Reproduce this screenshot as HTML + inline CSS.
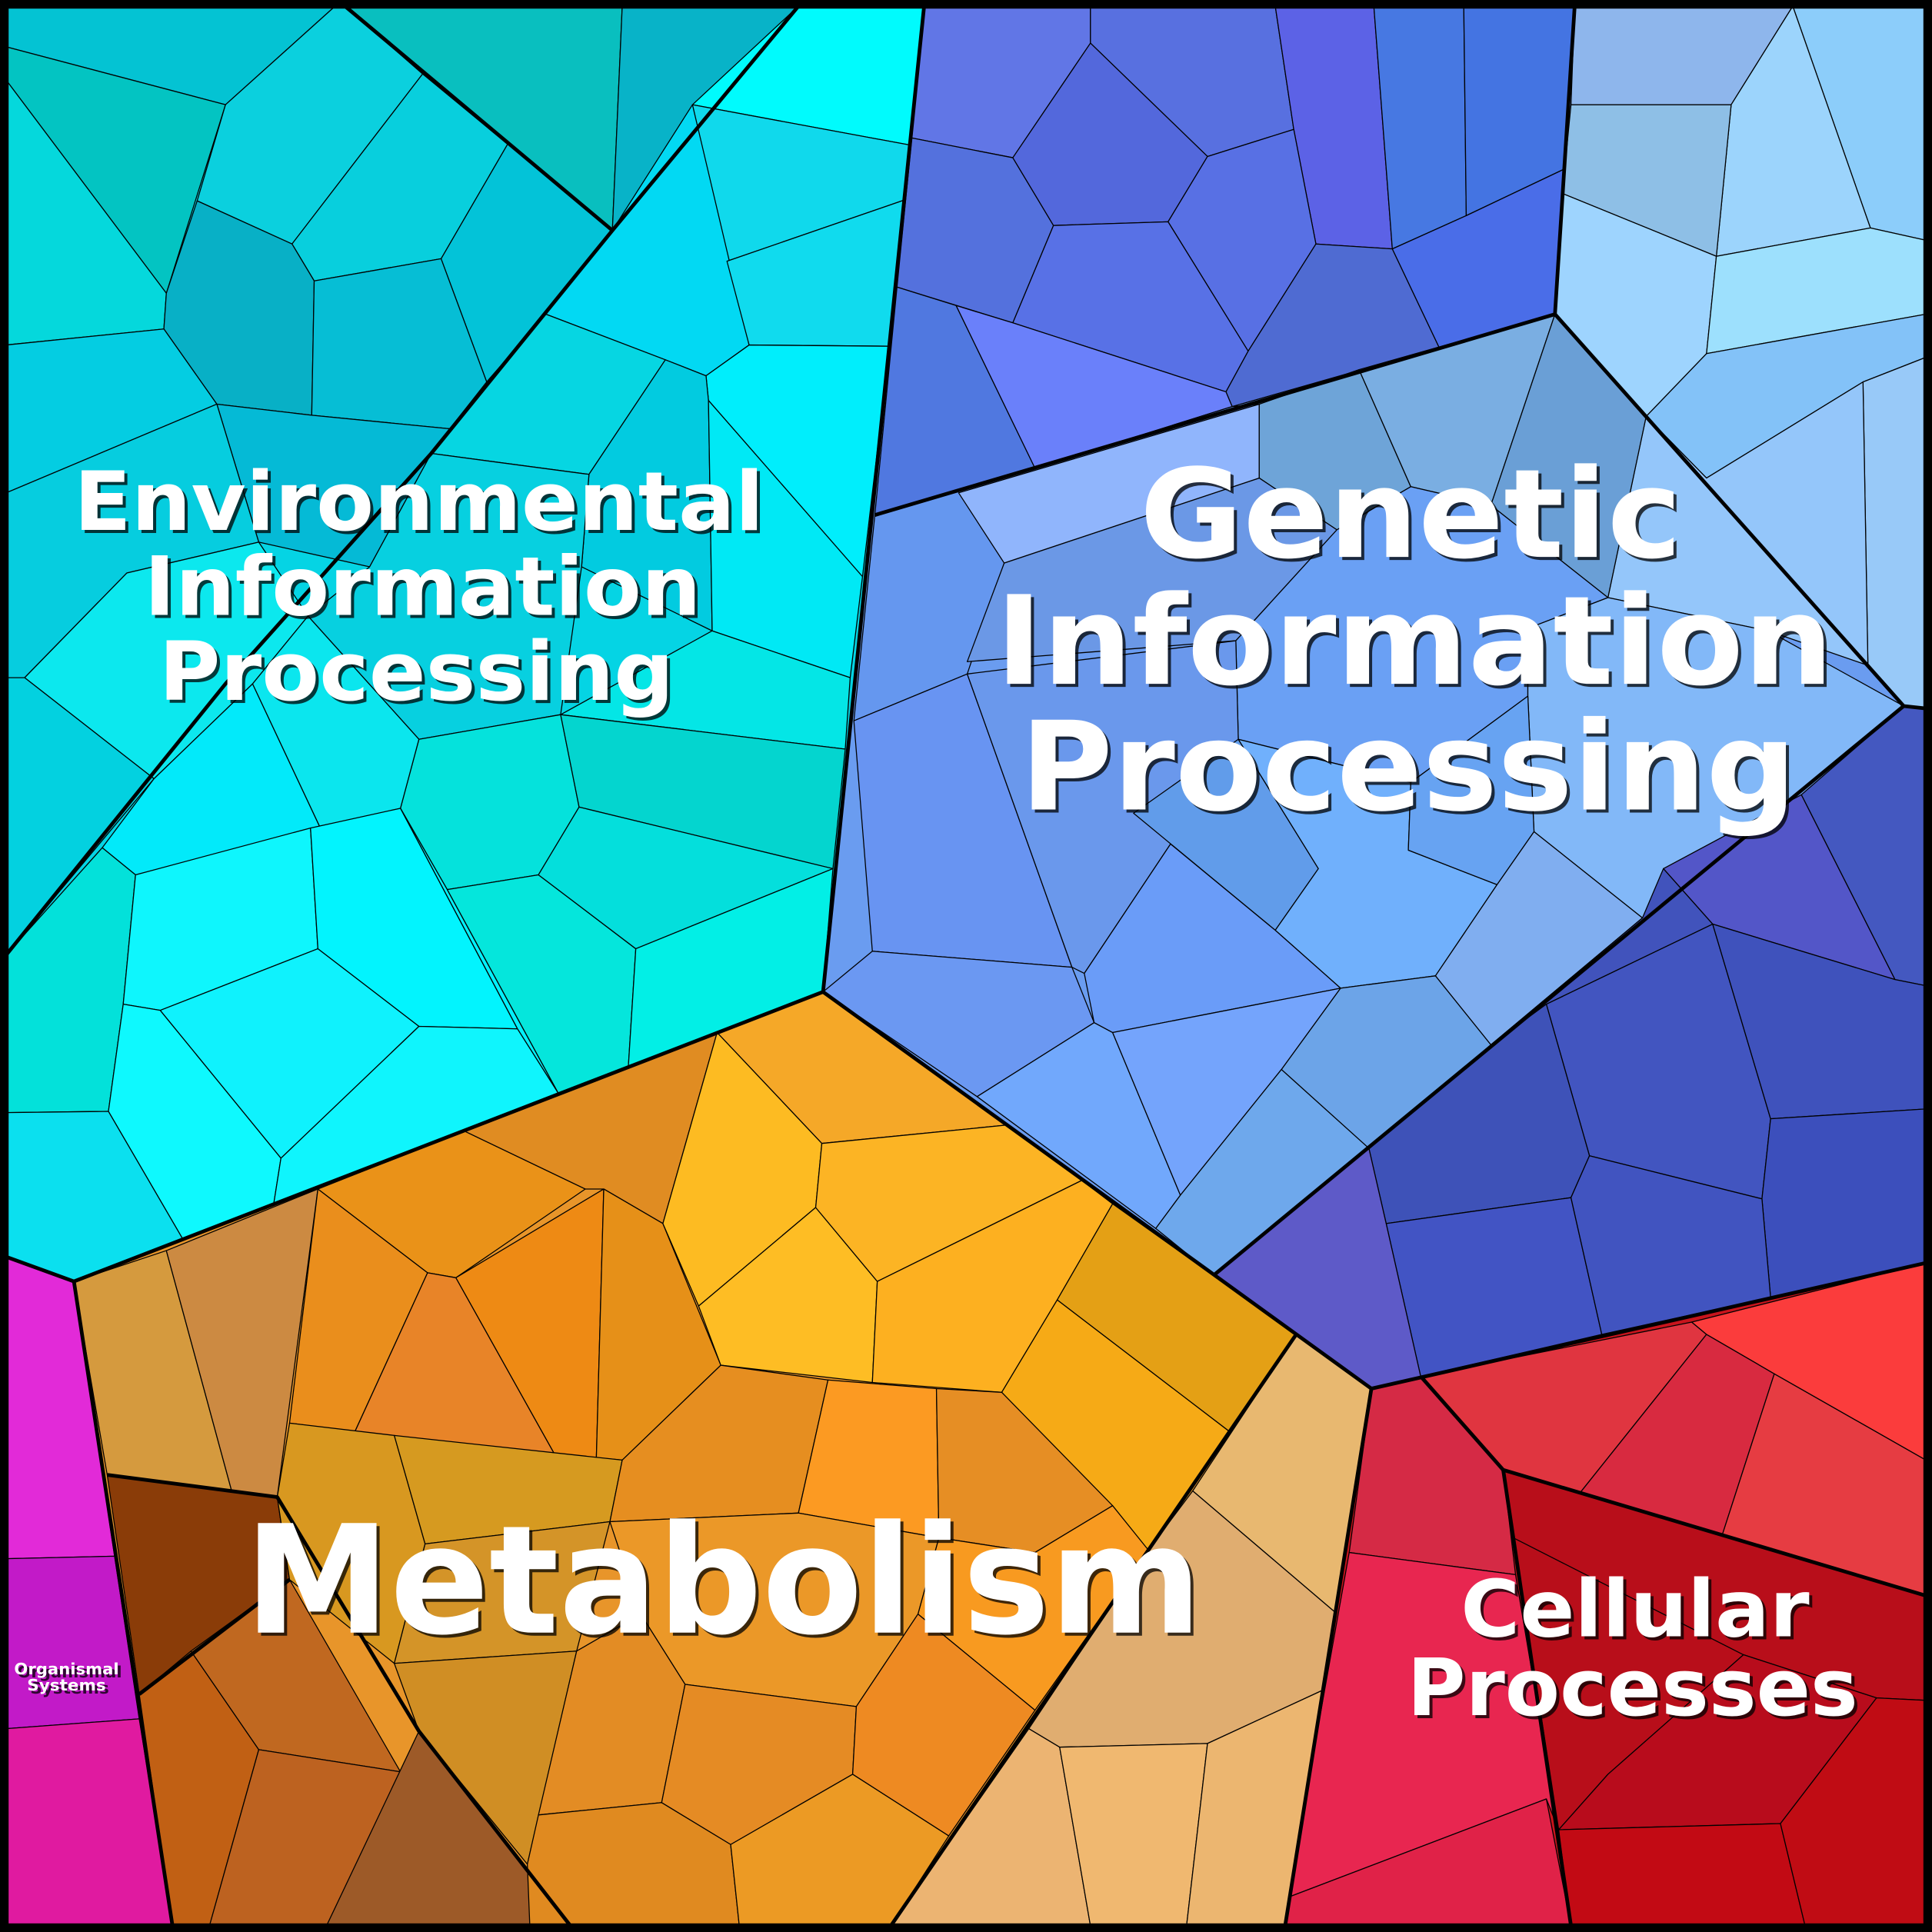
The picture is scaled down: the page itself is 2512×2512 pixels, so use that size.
<!DOCTYPE html>
<html><head><meta charset="utf-8"><style>html,body{margin:0;padding:0;background:#000}svg{display:block}</style></head><body>
<svg xmlns="http://www.w3.org/2000/svg" width="2512" height="2512" viewBox="0 0 1568 1568">
<g stroke="#000" stroke-width="0.8" stroke-linejoin="round">
<polygon points="5,5 750,5 668,805 60,1040 5,1020" fill="#05d4e4"/>
<polygon points="750,5 1563,5 1563,1025 1113,1127 668,805" fill="#6a9cf0"/>
<polygon points="668,805 1113,1127 1043,1563 140,1563 60,1040" fill="#e8952a"/>
<polygon points="1113,1127 1563,1025 1563,1563 1043,1563" fill="#c8141c"/>
<polygon points="5,1020 60,1040 140,1563 5,1563" fill="#d020c8"/>
<polygon points="5,5 272,5 183,85 5,38" fill="#04c3d3"/>
<polygon points="5,38 183,85 135,238 5,65" fill="#03c4c2"/>
<polygon points="5,65 135,238 133,267 5,280" fill="#05d8dc"/>
<polygon points="280,5 505,5 497,187" fill="#09bfbf"/>
<polygon points="272,5 280,5 343,60 237,198 160,163 183,85" fill="#0bd0de"/>
<polygon points="505,5 648,5 497,187" fill="#08b3c8"/>
<polygon points="648,5 750,5 740,118 562,85" fill="#00fbfd"/>
<polygon points="343,60 412,117 358,210 255,228 237,198" fill="#08cfdd"/>
<polygon points="412,117 497,187 443,255 395,310 358,210" fill="#03c3d8"/>
<polygon points="160,163 237,198 255,228 253,337 176,328 133,267 135,238" fill="#08b0c6"/>
<polygon points="255,228 358,210 395,310 365,348 253,337" fill="#06bed5"/>
<polygon points="5,280 133,267 176,328 5,400" fill="#04cde2"/>
<polygon points="562,85 740,118 735,162 590,212" fill="#10d9ec"/>
<polygon points="497,187 562,85 608,280 573,305 540,292 443,255" fill="#02d9f3"/>
<polygon points="590,212 735,162 722,281 608,280" fill="#10dbee"/>
<polygon points="608,280 722,281 700,468 575,325 573,305" fill="#00eefc"/>
<polygon points="443,255 540,292 478,385 350,368 395,310" fill="#06d6e2"/>
<polygon points="540,292 573,305 575,325 578,512 472,460 478,385" fill="#02cbe0"/>
<polygon points="176,328 253,337 365,348 350,368 300,460 210,440" fill="#05bad6"/>
<polygon points="350,368 478,385 472,460 455,580 340,600 250,500 300,460" fill="#07d0e0"/>
<polygon points="5,400 176,328 210,440 103,465 20,550 5,550" fill="#06cddf"/>
<polygon points="103,465 210,440 250,500 205,555 125,632 20,550" fill="#0ce8ee"/>
<polygon points="5,550 20,550 125,632 5,775" fill="#03d1e0"/>
<polygon points="575,325 700,468 690,550 578,512" fill="#00e9f5"/>
<polygon points="455,580 578,512 690,550 686,608" fill="#04e6e6"/>
<polygon points="340,600 455,580 470,655 437,710 363,722 325,656" fill="#05e2dc"/>
<polygon points="455,580 686,608 676,705 470,655" fill="#04d5cf"/>
<polygon points="125,632 205,555 260,672 110,710 83,688" fill="#02eafa"/>
<polygon points="205,555 250,500 340,600 325,656 260,672" fill="#0be6ee"/>
<polygon points="5,775 83,688 110,710 100,815 88,902 5,903" fill="#03e1da"/>
<polygon points="110,710 252,672 258,770 130,820 100,815" fill="#0ef6fd"/>
<polygon points="252,672 325,656 420,835 340,833 258,770" fill="#02f4fe"/>
<polygon points="130,820 258,770 340,833 228,940" fill="#0ff2fd"/>
<polygon points="100,815 130,820 228,940 222,978 148,1005 88,902" fill="#0ef9fe"/>
<polygon points="228,940 340,833 420,835 453,887 222,978" fill="#0ff5fd"/>
<polygon points="325,656 363,722 453,887 420,835" fill="#03f0fa"/>
<polygon points="363,722 437,710 516,770 510,865 453,887" fill="#05e6dc"/>
<polygon points="437,710 470,655 676,705 516,770" fill="#04dfdc"/>
<polygon points="516,770 676,705 668,805 510,865" fill="#02efe6"/>
<polygon points="5,903 88,902 148,1005 60,1040 5,1020" fill="#0be0ef"/>
<polygon points="750,5 885,5 885,35 822,128 740,112" fill="#6176e6"/>
<polygon points="885,5 1035,5 1050,105 980,127 885,35" fill="#5870e0"/>
<polygon points="1035,5 1115,5 1130,202 1068,198 1050,105" fill="#5c62e6"/>
<polygon points="1115,5 1188,5 1190,175 1130,202" fill="#4778e2"/>
<polygon points="1188,5 1278,5 1270,137 1190,175" fill="#4474e2"/>
<polygon points="740,112 822,128 855,183 822,262 728,233" fill="#5471dd"/>
<polygon points="822,128 885,35 980,127 948,180 855,183" fill="#5368dc"/>
<polygon points="980,127 1050,105 1068,198 1013,285 948,180" fill="#5870e4"/>
<polygon points="855,183 948,180 1013,285 995,318 822,262" fill="#5871e6"/>
<polygon points="1068,198 1130,202 1168,282 1000,330 995,318 1013,285" fill="#4f6bd2"/>
<polygon points="1130,202 1190,175 1270,137 1262,255 1168,282" fill="#4a6de8"/>
<polygon points="728,233 776,248 840,380 710,418" fill="#5078e0"/>
<polygon points="776,248 822,262 995,318 1000,330 840,380" fill="#6a80fa"/>
<polygon points="1278,5 1455,5 1405,85 1275,85" fill="#8eb6ec"/>
<polygon points="1455,5 1563,5 1563,195 1518,185" fill="#8ccdfa"/>
<polygon points="1405,85 1455,5 1518,185 1393,208" fill="#9cd4fc"/>
<polygon points="1275,85 1405,85 1393,208 1268,157" fill="#8ebfe6"/>
<polygon points="1268,157 1393,208 1385,287 1336,338 1262,255" fill="#9ed4fe"/>
<polygon points="1393,208 1518,185 1563,195 1563,255 1385,287" fill="#9de0fd"/>
<polygon points="1385,287 1563,255 1563,290 1512,310 1385,388 1336,338" fill="#83c2f8"/>
<polygon points="1512,310 1563,290 1563,575 1545,573 1516,540" fill="#98c9f8"/>
<polygon points="1385,388 1512,310 1516,540 1435,512 1305,485 1336,338" fill="#94c6fa"/>
<polygon points="710,418 840,380 1000,330 1022,328 1022,388 815,457 785,547 693,585" fill="#6597ef"/>
<polygon points="778,400 1022,328 1022,388 815,457" fill="#90b5fc"/>
<polygon points="1022,328 1103,300 1145,395 1085,430 1022,388" fill="#6ea4d8"/>
<polygon points="1103,300 1262,255 1210,410 1145,395" fill="#7aaee2"/>
<polygon points="1262,255 1336,338 1305,485 1210,410" fill="#6a9fd6"/>
<polygon points="815,457 1022,388 1085,430 1003,520 785,537" fill="#6b98e6"/>
<polygon points="1003,520 1085,430 1145,395 1210,410 1305,485 1240,510 1240,565 1145,635 1005,600" fill="#6aa0f4"/>
<polygon points="1240,510 1305,485 1435,512 1545,573 1333,745 1245,675 1240,565" fill="#82b8f8"/>
<polygon points="693,585 785,547 870,785 708,772" fill="#6894f2"/>
<polygon points="785,547 1003,520 1005,600 950,685 880,790 870,785" fill="#6a98ec"/>
<polygon points="920,660 1005,600 1070,705 1035,755" fill="#619cea"/>
<polygon points="1005,600 1145,635 1143,690 1215,718 1165,792 1088,802 1035,755 1070,705" fill="#70b0fc"/>
<polygon points="1145,635 1240,565 1245,675 1215,718 1143,690" fill="#67a3f2"/>
<polygon points="1245,675 1333,745 1210,848 1165,792 1215,718" fill="#80aef0"/>
<polygon points="668,805 708,772 870,785 888,830 793,890" fill="#6b98f2"/>
<polygon points="880,790 950,685 1035,755 1088,802 903,838 888,830" fill="#6a9cf8"/>
<polygon points="888,830 903,838 958,970 938,997 793,890" fill="#71a8fc"/>
<polygon points="903,838 1088,802 1040,868 958,970" fill="#74a4fc"/>
<polygon points="1088,802 1165,792 1210,848 1111,932 1040,868" fill="#6ca4e8"/>
<polygon points="958,970 1040,868 1111,932 985,1035 938,997" fill="#6ea8ec"/>
<polygon points="1350,705 1462,645 1538,795 1390,750" fill="#5356c8"/>
<polygon points="1462,645 1545,573 1563,575 1563,800 1538,795" fill="#4458c0"/>
<polygon points="1333,745 1350,705 1390,750 1255,815 1210,848" fill="#4153bc"/>
<polygon points="1255,815 1390,750 1437,908 1430,973 1290,938" fill="#4255c0"/>
<polygon points="1390,750 1538,795 1563,800 1563,900 1437,908" fill="#3f52bc"/>
<polygon points="1111,932 1210,848 1255,815 1290,938 1275,972 1125,993" fill="#3e52b8"/>
<polygon points="1437,908 1563,900 1563,1025 1437,1053 1430,973" fill="#3c4fbc"/>
<polygon points="1125,993 1275,972 1300,1083 1153,1117" fill="#4254c4"/>
<polygon points="1275,972 1290,938 1430,973 1437,1053 1300,1083" fill="#4154c0"/>
<polygon points="985,1035 1111,932 1125,993 1153,1117 1113,1127" fill="#5e5ac8"/>
<polygon points="1113,1127 1153,1117 1220,1193 1230,1278 1095,1260" fill="#d52a45"/>
<polygon points="1153,1117 1373,1073 1385,1083 1282,1212 1220,1193" fill="#e03540"/>
<polygon points="1373,1073 1563,1025 1563,1185 1440,1115 1385,1083" fill="#fb3c3c"/>
<polygon points="1385,1083 1440,1115 1398,1245 1282,1212" fill="#d82a40"/>
<polygon points="1440,1115 1563,1185 1563,1295 1398,1245" fill="#e63c42"/>
<polygon points="1095,1260 1230,1278 1265,1485 1255,1460 1045,1540" fill="#e82650"/>
<polygon points="1043,1563 1045,1540 1255,1460 1275,1563" fill="#e02248"/>
<polygon points="1220,1193 1398,1245 1563,1295 1563,1380 1523,1378 1415,1343 1305,1440 1265,1485" fill="#b80e1a"/>
<polygon points="1265,1485 1305,1440 1415,1343 1523,1378 1445,1480" fill="#b80c1c"/>
<polygon points="1265,1485 1445,1480 1465,1563 1275,1563" fill="#c20a14"/>
<polygon points="1445,1480 1523,1378 1563,1380 1563,1563 1465,1563" fill="#c00c14"/>
<polyline points="1228,1248 1415,1343" fill="none"/>
<polygon points="60,1040 135,1015 188,1210 87,1197" fill="#d59a3e"/>
<polygon points="135,1015 258,965 225,1215 188,1210" fill="#cc8a42"/>
<polygon points="87,1197 225,1215 235,1282 113,1375" fill="#8a3c08"/>
<polygon points="113,1375 155,1340 210,1420 170,1563 140,1563" fill="#c16014"/>
<polygon points="155,1340 235,1282 325,1438 210,1420" fill="#c06820"/>
<polygon points="210,1420 325,1438 265,1563 170,1563" fill="#bd6220"/>
<polygon points="265,1563 340,1405 463,1563" fill="#9d5a28"/>
<polygon points="258,965 377,918 475,965 370,1037 347,1033" fill="#ea9218"/>
<polygon points="258,965 347,1033 288,1162 235,1155" fill="#ea8e1c"/>
<polygon points="347,1033 370,1037 450,1180 288,1162" fill="#e88428"/>
<polygon points="370,1037 490,965 484,1183 450,1180" fill="#ee8a14"/>
<polygon points="377,918 582,838 538,993 490,965 475,965" fill="#e08c22"/>
<polygon points="490,965 538,993 585,1108 505,1185 484,1183" fill="#e69018"/>
<polygon points="582,838 668,805 818,913 667,928" fill="#f5a828"/>
<polygon points="538,993 582,838 667,928 662,980 567,1060" fill="#fdbb22"/>
<polygon points="567,1060 662,980 712,1040 708,1122 585,1108" fill="#febd24"/>
<polygon points="662,980 667,928 818,913 878,958 712,1040" fill="#fcb424"/>
<polygon points="712,1040 878,958 903,977 858,1055 813,1130 708,1122" fill="#fdb020"/>
<polygon points="903,977 1052,1083 998,1162 858,1055" fill="#e4a015"/>
<polygon points="858,1055 998,1162 932,1258 813,1130" fill="#f6aa16"/>
<polygon points="1052,1083 1113,1127 1083,1308 968,1210" fill="#e8b870"/>
<polygon points="968,1210 1083,1308 1073,1372 980,1415 860,1418 835,1403 932,1258" fill="#e0ad70"/>
<polygon points="835,1403 860,1418 885,1563 723,1563" fill="#ecb472"/>
<polygon points="860,1418 980,1415 963,1563 885,1563" fill="#f0b870"/>
<polygon points="980,1415 1073,1372 1043,1563 963,1563" fill="#ecb670"/>
<polygon points="235,1155 320,1165 345,1253 320,1350 235,1282 225,1215" fill="#d89820"/>
<polygon points="320,1165 505,1185 495,1235 345,1253" fill="#d69a20"/>
<polygon points="345,1253 495,1235 468,1340 320,1350" fill="#d49428"/>
<polygon points="320,1350 468,1340 428,1513 340,1405" fill="#d08e24"/>
<polygon points="585,1108 672,1120 648,1228 495,1235 505,1185" fill="#e68e20"/>
<polygon points="672,1120 760,1127 762,1248 648,1228" fill="#fc9a22"/>
<polygon points="760,1127 813,1130 903,1222 840,1260 762,1248" fill="#e68e24"/>
<polygon points="903,1222 932,1258 840,1388 745,1310 762,1248 840,1260" fill="#f89a20"/>
<polygon points="495,1235 648,1228 762,1248 745,1310 695,1385 556,1367 520,1310" fill="#eb9828"/>
<polygon points="468,1340 520,1310 556,1367 537,1463 437,1473" fill="#e38c24"/>
<polygon points="556,1367 695,1385 692,1440 593,1497 537,1463" fill="#e58b24"/>
<polygon points="695,1385 745,1310 840,1388 770,1490 692,1440" fill="#ee8a22"/>
<polygon points="428,1513 437,1473 537,1463 593,1497 600,1563 430,1563" fill="#e08a20"/>
<polygon points="593,1497 692,1440 770,1490 723,1563 600,1563" fill="#ec9a24"/>
<polygon points="5,1020 60,1040 93,1263 5,1265" fill="#e22ad8"/>
<polygon points="5,1265 93,1263 113,1395 5,1403" fill="#c21ac8"/>
<polygon points="5,1403 113,1395 140,1563 5,1563" fill="#e01aa0"/>
</g>
<g fill="none" stroke="#000" stroke-width="3" stroke-linejoin="round">
<polygon points="5,5 750,5 668,805 60,1040 5,1020"/>
<polyline points="668,805 1113,1127 1043,1563"/>
<polyline points="1113,1127 1563,1025"/>
<polyline points="60,1040 140,1563"/>
<polyline points="5,775 183,555 350,368 497,187 648,5"/>
<polyline points="280,5 497,187"/>
<polyline points="710,418 1262,255 1278,5"/>
<polyline points="1262,255 1545,573 1563,575"/>
<polyline points="1545,573 985,1035"/>
<polyline points="87,1197 225,1215 340,1405 463,1563"/>
<polyline points="113,1375 235,1282"/>
<polyline points="1220,1193 1275,1563"/>
<polyline points="1220,1193 1563,1295"/>
<polyline points="1153,1117 1220,1193"/>
<polyline points="723,1563 1052,1083"/>
</g>
<rect x="3.5" y="3.5" width="1561" height="1561" fill="none" stroke="#000" stroke-width="7"/>
<g font-family="'DejaVu Sans','Liberation Sans',sans-serif" font-weight="bold" text-anchor="middle">
<g fill="#000" opacity="0.75" transform="translate(2.5,2.5)">
<text x="340" y="430" font-size="66" textLength="560" lengthAdjust="spacingAndGlyphs">Environmental</text>
<text x="343" y="499" font-size="66" textLength="452" lengthAdjust="spacingAndGlyphs">Information</text>
<text x="338" y="568" font-size="66" textLength="418" lengthAdjust="spacingAndGlyphs">Processing</text>
<text x="1145" y="452" font-size="100" textLength="440" lengthAdjust="spacingAndGlyphs">Genetic</text>
<text x="1148" y="555" font-size="100" textLength="680" lengthAdjust="spacingAndGlyphs">Information</text>
<text x="1143" y="657" font-size="100" textLength="630" lengthAdjust="spacingAndGlyphs">Processing</text>
<text x="587" y="1325" font-size="122" textLength="777" lengthAdjust="spacingAndGlyphs">Metabolism</text>
<text x="1327" y="1328" font-size="64" textLength="283" lengthAdjust="spacingAndGlyphs">Cellular</text>
<text x="1325" y="1392" font-size="64" textLength="366" lengthAdjust="spacingAndGlyphs">Processes</text>
<text x="54" y="1359" font-size="13" textLength="85" lengthAdjust="spacingAndGlyphs">Organismal</text>
<text x="54" y="1372" font-size="13" textLength="64" lengthAdjust="spacingAndGlyphs">Systems</text>
</g>
<g fill="#fff">
<text x="340" y="430" font-size="66" textLength="560" lengthAdjust="spacingAndGlyphs">Environmental</text>
<text x="343" y="499" font-size="66" textLength="452" lengthAdjust="spacingAndGlyphs">Information</text>
<text x="338" y="568" font-size="66" textLength="418" lengthAdjust="spacingAndGlyphs">Processing</text>
<text x="1145" y="452" font-size="100" textLength="440" lengthAdjust="spacingAndGlyphs">Genetic</text>
<text x="1148" y="555" font-size="100" textLength="680" lengthAdjust="spacingAndGlyphs">Information</text>
<text x="1143" y="657" font-size="100" textLength="630" lengthAdjust="spacingAndGlyphs">Processing</text>
<text x="587" y="1325" font-size="122" textLength="777" lengthAdjust="spacingAndGlyphs">Metabolism</text>
<text x="1327" y="1328" font-size="64" textLength="283" lengthAdjust="spacingAndGlyphs">Cellular</text>
<text x="1325" y="1392" font-size="64" textLength="366" lengthAdjust="spacingAndGlyphs">Processes</text>
<text x="54" y="1359" font-size="13" textLength="85" lengthAdjust="spacingAndGlyphs">Organismal</text>
<text x="54" y="1372" font-size="13" textLength="64" lengthAdjust="spacingAndGlyphs">Systems</text>
</g>
</g>
</svg>
</body></html>
